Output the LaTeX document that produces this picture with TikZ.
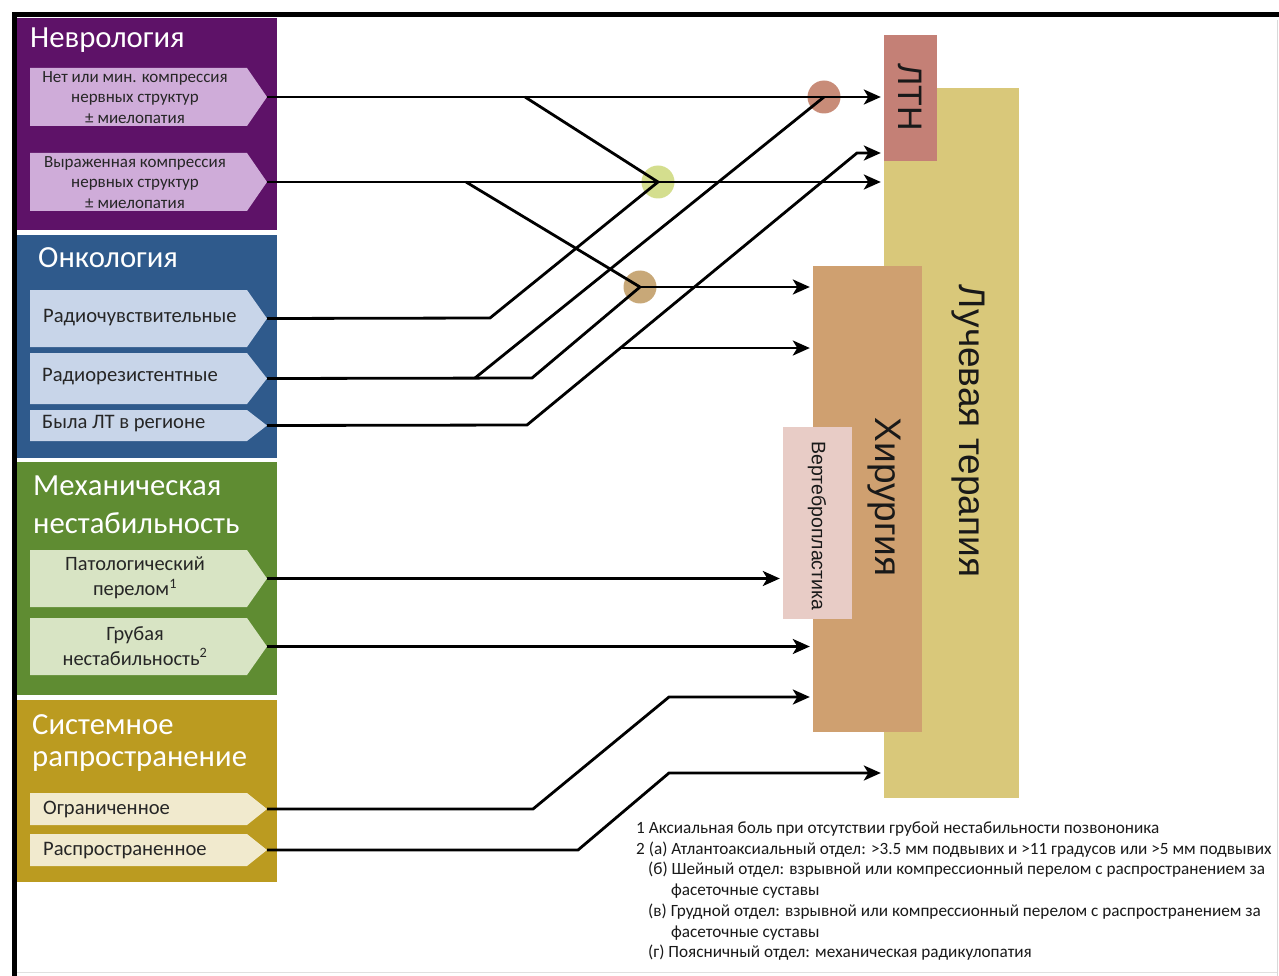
\documentclass[tikz,border=0pt]{standalone}
\usepackage{fontspec}
\setmainfont{Carlito}
\newfontfamily\arialf{Liberation Sans}
\usetikzlibrary{arrows.meta,calc}
\definecolor{purp}{RGB}{94,18,104}
\definecolor{purpl}{RGB}{207,172,217}
\definecolor{blu}{RGB}{47,90,140}
\definecolor{blul}{RGB}{200,213,233}
\definecolor{grn}{RGB}{95,140,50}
\definecolor{grnl}{RGB}{216,228,196}
\definecolor{gld}{RGB}{187,155,32}
\definecolor{gldl}{RGB}{241,234,206}
\definecolor{ltnc}{RGB}{196,128,118}
\definecolor{ltc}{RGB}{217,200,122}
\definecolor{hirc}{RGB}{207,160,112}
\definecolor{vertc}{RGB}{232,204,198}
\definecolor{pinkc}{RGB}{200,140,120}
\definecolor{greenc}{RGB}{212,222,142}
\definecolor{tanc}{RGB}{200,168,120}
\newcommand{\chevbox}[4]{%
  \fill[#4] (30,#2) -- (247,#2) -- (267,{(#2+#3)/2}) -- (247,#3) -- (30,#3) -- cycle;
  \coordinate (#1) at (267,{(#2+#3)/2});
}
\begin{document}
\begin{tikzpicture}[x=1pt,y=-1pt,
  line/.style={line width=2.8pt,black},
  arr/.style={line,shorten >=3pt,-{Stealth[length=17pt,width=15pt,inset=4.5pt]}},
  hdr/.style={anchor=west,text=white,font=\fontsize{30.7}{37}\selectfont,inner sep=0},
  subl/.style={anchor=west,text=black!85,inner sep=0,font=\fontsize{20.6}{25}\selectfont},
  subc/.style={align=center,text=black!85,inner sep=0,font=\fontsize{20.4}{25}\selectfont},
  subs/.style={align=center,text=black!85,inner sep=0,font=\fontsize{17}{20.5}\selectfont},
  panel/.style={anchor=north west,inner sep=0,minimum width=260pt},
  rbox/.style={inner sep=0},
  vtext/.style={rotate=-90,inner sep=0,text=black!90},
  dot/.style={circle,minimum size=33pt,inner sep=0},
  fn/.style={anchor=west,inner sep=0,text=black!90,font=\fontsize{17.2}{20}\selectfont}]

\fill[white] (0,0) rectangle (1279,976);
\useasboundingbox (0,0) rectangle (1279,976);

% frame
\draw[line width=5pt] (12,15) -- (1279,15);
\draw[line width=5pt] (14.5,13) -- (14.5,976);
\draw[black!15,line width=1pt] (1277,20) -- (1277,976);
\draw[black!12,line width=1pt] (17,972) -- (1277,972);

% left panels
\node[panel,fill=purp,minimum height=212pt] (pneuro) at (17,18) {};
\node[panel,fill=blu,minimum height=223pt] (ponco) at (17,235) {};
\node[panel,fill=grn,minimum height=233pt] (pmech) at (17,462) {};
\node[panel,fill=gld,minimum height=182pt] (psys) at (17,700) {};

\node[hdr] (hneuro) at (30,40) {Неврология};
\node[hdr] (honco) at (38,258) {Онкология};
\node[hdr] (hmech1) at (33,486) {Механическая};
\node[hdr] (hmech2) at (33,523) {нестабильность};
\node[hdr] (hsys1) at (32,725) {Системное};
\node[hdr] (hsys2) at (32,762) {рапространение};

% sub boxes
\chevbox{n1}{68}{126}{purpl}
\chevbox{n2}{153}{211}{purpl}
\chevbox{b1}{290}{347}{blul}
\chevbox{b2}{353}{404}{blul}
\chevbox{b3}{410}{441}{blul}
\chevbox{m1}{550}{607}{grnl}
\chevbox{m2}{618}{675}{grnl}
\chevbox{s1}{793}{825}{gldl}
\chevbox{s2}{834}{866}{gldl}

\node[subs] (tn1) at (135,97.5) {Нет или мин. компрессия\\нервных структур\\± миелопатия};
\node[subs] (tn2) at (135,182.5) {Выраженная компрессия\\нервных структур\\± миелопатия};
\node[subl] (tb1) at (43,318) {Радиочувствительные};
\node[subl] (tb2) at (42,377) {Радиорезистентные};
\node[subl] (tb3) at (42,424) {Была ЛТ в регионе};
\node[subc] (tm1) at (135,578) {Патологический\\перелом\textsuperscript{1}};
\node[subc] (tm2) at (135,646) {Грубая\\нестабильность\textsuperscript{2}};
\node[subl] (ts1) at (43,809) {Ограниченное};
\node[subl] (ts2) at (43,851) {Распространенное};

% right boxes
\node[rbox,fill=ltc,minimum width=135pt,minimum height=710pt] (lt) at (951.5,443) {};
\node[rbox,fill=ltnc,minimum width=53pt,minimum height=126pt] (ltn) at (910.5,98) {};
\node[rbox,fill=hirc,minimum width=109pt,minimum height=466pt] (hir) at (867.5,499) {};
\node[rbox,fill=vertc,minimum width=69pt,minimum height=192pt] (vert) at (817.5,523) {};

\node[vtext,font=\arialf\fontsize{37}{40}\selectfont] (tlt) at (968,431) {Лучевая терапия};
\node[vtext,font=\arialf\fontsize{37}{40}\selectfont] (thir) at (884,497) {Хирургия};
\node[vtext,font=\arialf\fontsize{19.5}{22}\selectfont] (tvert) at (817,526) {Вертебропластика};
\node[vtext,font=\arialf\fontsize{34}{40}\selectfont] (tltn) at (910,97) {ЛТН};

% circles
\node[dot,fill=pinkc] (pc) at (824,97) {};
\node[dot,fill=greenc] (gc) at (658,182) {};
\node[dot,fill=tanc] (tc) at (640,287) {};

% junctions
\coordinate (j1) at (525,97);
\coordinate (j2) at (466,182);
\coordinate (k1) at (490,318);
\coordinate (k2a) at (475,378);
\coordinate (k2b) at (532,378);
\coordinate (k3) at (527,425);
\coordinate (k3top) at (857,153);
\coordinate (j3) at ($(k3)!0.283!(k3top)$);
\coordinate (q1a) at (533,809);
\coordinate (q1b) at (669,697);
\coordinate (q2a) at (578,850);
\coordinate (q2b) at (669,773);

% connectors
\draw[arr] (n1) -- (ltn.west |- n1);
\draw[line] (j1) -- (gc.center);
\draw[arr] (n2) -- (lt.west |- n2);
\draw[line] (j2) -- (tc.center);
\draw[line] (b1) -- (k1) -- (gc.center);
\draw[line] (b2) -- (k2b) -- (tc.center);
\draw[line] (k2a) -- (pc.center);
\draw[arr] (b3) -- (k3) -- (k3top) -- (ltn.west |- k3top);
\draw[arr] (j3) -- (hir.west |- j3);
\draw[arr] (tc.center) -- (hir.west |- tc);
\draw[arr] (m1) -- (vert.west |- m1);
\draw[arr] (m2) -- (hir.west |- m2);
\draw[arr] (s1) -- (q1a) -- (q1b) -- (hir.west |- q1b);
\draw[arr] (s2) -- (q2a) -- (q2b) -- (lt.west |- q2b);

% footnotes
\node[fn] (fn1) at (636,829) {1 Аксиальная боль при отсутствии грубой нестабильности позвононика};
\node[fn] (fn2) at (636,850) {2 (а) Атлантоаксиальный отдел: >3.5 мм подвывих и >11 градусов или >5 мм подвывих};
\node[fn] (fn3) at (648,870) {(б) Шейный отдел: взрывной или компрессионный перелом с распространением за};
\node[fn] (fn4) at (671,891) {фасеточные суставы};
\node[fn] (fn5) at (648,912) {(в) Грудной отдел: взрывной или компрессионный перелом с распространением за};
\node[fn] (fn6) at (671,933) {фасеточные суставы};
\node[fn] (fn7) at (648,953) {(г) Поясничный отдел: механическая радикулопатия};
\end{tikzpicture}
\end{document}
